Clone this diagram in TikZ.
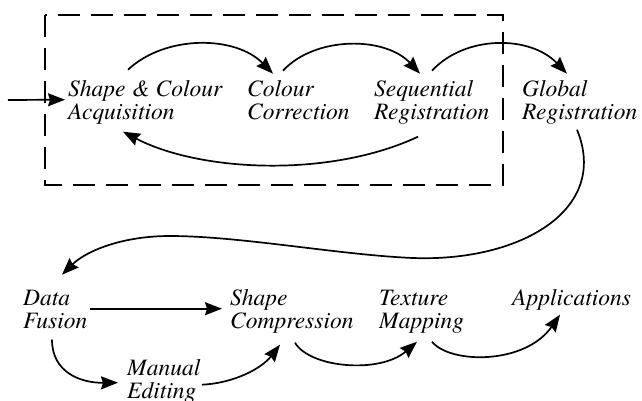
\documentclass[tikz,border=0pt]{standalone}
\usepackage{fontspec}
\newfontfamily\labelfont{texgyretermes-italic.otf}
\usetikzlibrary{arrows.meta}
\newcommand{\twolines}[2]{\begin{tabular}[t]{@{}l@{}}#1\\#2\end{tabular}}
\newcommand{\oneline}[1]{\begin{tabular}[t]{@{}l@{}}#1\end{tabular}}
\begin{document}
\begin{tikzpicture}[x=1pt,y=-1pt,
  lbl/.style={anchor=base west, inner sep=0pt, font=\labelfont\fontsize{23.5}{23}\selectfont},
  arr/.style={line width=1.7pt, -{Stealth[length=17pt,width=13pt,inset=2pt]}},
  framebox/.style={line width=1.5pt, dash pattern=on 22pt off 11pt}]
\useasboundingbox (0,0) rectangle (642,401);
\draw[framebox] (45,15) rectangle (503,185);
% nodes
\node[lbl] (acq)  at (68,97)   {\twolines{Shape \& Colour}{Acquisition}};
\node[lbl] (cc)   at (247,97)  {\twolines{Colour}{Correction}};
\node[lbl] (seq)  at (374,97)  {\twolines{Sequential}{Registration}};
\node[lbl] (glob) at (522,97)  {\twolines{Global}{Registration}};
\node[lbl] (fus)  at (23,305)  {\twolines{Data}{Fusion}};
\node[lbl] (comp) at (230,305) {\twolines{Shape}{Compression}};
\node[lbl] (tex)  at (379,305) {\twolines{Texture}{Mapping}};
\node[lbl] (app)  at (512,305) {\oneline{Applications}};
\node[lbl] (man)  at (127,375) {\twolines{Manual}{Editing}};
\coordinate (in) at (8,100);
% connectors
\draw[arr] (in) -- ([shift={(-3,19)}]acq.north west);
\draw[arr] ([shift={(60,-11)}]acq.north west) .. controls (165,35) and (235,35) .. ([shift={(26,-7)}]cc.north west);
\draw[arr] ([shift={(36,-10)}]cc.north west) .. controls (315,36) and (385,36) .. ([shift={(46,-7)}]seq.north west);
\draw[arr] ([shift={(58,-10)}]seq.north west) .. controls (465,35) and (530,35) .. ([shift={(45,-7)}]glob.north west);
\draw[arr] ([shift={(44,56)}]seq.north west) .. controls (330,178) and (200,172) .. ([shift={(55,51)}]acq.north west);
\draw[arr] ([shift={(55,49)}]glob.north west) .. controls (610,210) and (520,262) .. (413,258)
   .. controls (340,255) and (240,236) .. (170,236)
   .. controls (120,236) and (85,252) .. ([shift={(39,-14)}]fus.north west);
\draw[arr] ([shift={(67,20)}]fus.north west) -- ([shift={(-8,20)}]comp.north west);
\draw[arr] ([shift={(29,51)}]fus.north west) .. controls (52,372) and (80,383) .. ([shift={(-9,24)}]man.north west);
\draw[arr] ([shift={(75,26)}]man.north west) .. controls (235,383) and (262,368) .. ([shift={(50,56)}]comp.north west);
\draw[arr] ([shift={(65,54)}]comp.north west) .. controls (310,368) and (380,374) .. ([shift={(38,53)}]tex.north west);
\draw[arr] ([shift={(53,53)}]tex.north west) .. controls (450,364) and (525,365) .. ([shift={(48,26)}]app.north west);
\end{tikzpicture}
\end{document}
